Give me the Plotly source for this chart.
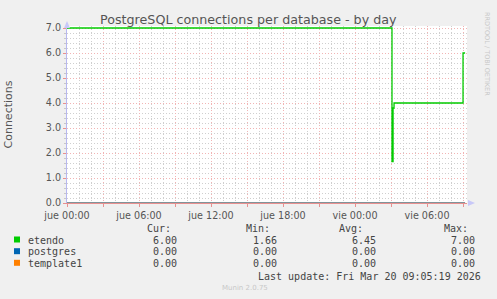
import plotly.graph_objects as go

# ---- data ----
hours_etendo = [0, 27.08, 27.17, 27.25, 33.0, 33.17]
values_etendo = [7.0, 1.66, 3.8, 4.0, 6.0, 6.0]
hours_zero = [0, 33.17]
values_postgres = [0.0, 0.0]
values_template1 = [0.0, 0.0]

series_names = ["etendo", "postgres", "template1"]
series_colors = ["#00CC00", "#0066B3", "#FF8000"]
cur_vals = ["6.00", "0.00", "0.00"]
min_vals = ["1.66", "0.00", "0.00"]
avg_vals = ["6.45", "0.00", "0.00"]
max_vals = ["7.00", "0.00", "0.00"]

tick_hours = [0, 3, 6, 9, 12, 15, 18, 21, 24, 27, 30, 33]
tick_labels = ["jue 00:00", "", "jue 06:00", "", "jue 12:00", "", "jue 18:00", "",
               "vie 00:00", "", "vie 06:00", ""]
y_ticks = [0, 1, 2, 3, 4, 5, 6, 7]

title = "PostgreSQL connections per database - by day"
last_update = "Last update: Fri Mar 20 09:05:19 2026"

# ---- layout geometry ----
W, H = 497, 299
L, R, T, B = 67, 467, 28, 203
TOP_PAD = 2  # extra pixels above 7.0 so the top line is not clipped
UNIT_PX = (B - T) / 7.0


def px(x):
    return (x - L) / (R - L)


def py(y):
    return (B - y) / (B - (T - TOP_PAD))


fig = go.Figure()
fig.add_trace(go.Scatter(x=hours_zero, y=values_template1, mode="lines", line=dict(color=series_colors[2], width=1, shape="hv"), showlegend=False, hoverinfo="skip"))
fig.add_trace(go.Scatter(x=hours_zero, y=values_postgres, mode="lines", line=dict(color=series_colors[1], width=1, shape="hv"), showlegend=False, hoverinfo="skip"))
fig.add_trace(go.Scatter(x=hours_etendo, y=values_etendo, mode="lines", line=dict(color=series_colors[0], width=1.3, shape="hv"), showlegend=False, hoverinfo="skip"))

tickfont = dict(family="DejaVu Sans", size=9.6, color="#555555")

fig.update_layout(
    width=W, height=H,
    margin=dict(l=L, r=W - R, t=T - TOP_PAD, b=H - B, autoexpand=False),
    paper_bgcolor="#F0F0F0",
    plot_bgcolor="#FFFFFF",
    showlegend=False,
    xaxis=dict(
        range=[0, 33.33], tickmode="array", tickvals=tick_hours, ticktext=tick_labels,
        showgrid=True, gridcolor="#F2B4B4", griddash="1px,2px", gridwidth=1,
        ticks="outside", ticklen=3, tickcolor="#E89090",
        minor=dict(tickmode="linear", tick0=0, dtick=1, showgrid=True, gridcolor="#CFCFCF", griddash="1px,2px", gridwidth=1, ticks=""),
        showline=True, linecolor="#E89090", linewidth=1,
        zeroline=False, tickfont=tickfont, fixedrange=True, automargin=False,
    ),
    yaxis=dict(
        range=[0, 7 + TOP_PAD / UNIT_PX], tickmode="array", tickvals=y_ticks, tickformat=".1f",
        showgrid=True, gridcolor="#F2B4B4", griddash="1px,2px", gridwidth=1,
        ticks="outside", ticklen=3, tickcolor="#E89090",
        minor=dict(tickmode="linear", tick0=0, dtick=0.2, showgrid=True, gridcolor="#CFCFCF", griddash="1px,2px", gridwidth=1, ticks="outside", ticklen=2, tickcolor="#C8C8C8"),
        showline=True, linecolor="#B8B8F0", linewidth=1,
        zeroline=False, tickfont=tickfont, fixedrange=True, automargin=False,
        title=dict(text="Connections", font=dict(family="DejaVu Sans", size=11, color="#555555"), standoff=30),
    ),
)

# arrows on axes
fig.add_shape(type="path", xref="paper", yref="paper",
              path=f"M {px(64)} {py(28)} L {px(70)} {py(28)} L {px(67)} {py(21)} Z",
              fillcolor="#C8C8F8", line=dict(width=0), layer="above")
fig.add_shape(type="path", xref="paper", yref="paper",
              path=f"M {px(468)} {py(200)} L {px(468)} {py(206)} L {px(475)} {py(203)} Z",
              fillcolor="#C8C8F8", line=dict(width=0), layer="above")

ann = []
ann.append(dict(text=title, x=px(248), y=py(19), xref="paper", yref="paper", showarrow=False,
                xanchor="center", yanchor="middle", font=dict(family="DejaVu Sans", size=12.7, color="#555555")))
ann.append(dict(text="RRDTOOL / TOBI OETIKER", x=px(487), y=py(54), xref="paper", yref="paper", showarrow=False,
                textangle=90, xanchor="center", yanchor="middle", font=dict(family="DejaVu Sans", size=6.5, color="#C8C8C8")))
ann.append(dict(text="Munin 2.0.75", x=px(245), y=py(288), xref="paper", yref="paper", showarrow=False,
                xanchor="center", yanchor="middle", font=dict(family="DejaVu Sans", size=7, color="#C8C8C8")))

mono = dict(family="DejaVu Sans Mono", size=10, color="#444444")
headers = ["Cur:", "Min:", "Avg:", "Max:"]
header_right = [173, 272, 365, 470]
col_right = [179, 279, 378, 477]
cols = [cur_vals, min_vals, avg_vals, max_vals]
for h, xr in zip(headers, header_right):
    ann.append(dict(text=h, x=px(xr), y=py(228), xref="paper", yref="paper", showarrow=False,
                    xanchor="right", yanchor="middle", font=mono))
row_y = [240, 251.7, 263.3]
for i, name in enumerate(series_names):
    ann.append(dict(text=name, x=px(26), y=py(row_y[i]), xref="paper", yref="paper", showarrow=False,
                    xanchor="left", yanchor="middle", font=mono))
    fig.add_shape(type="rect", xref="paper", yref="paper",
                  x0=px(14), x1=px(20), y0=py(row_y[i] - 3.5), y1=py(row_y[i] + 2.5),
                  fillcolor=series_colors[i], line=dict(width=0))
    for c, xr in zip(cols, col_right):
        ann.append(dict(text=c[i], x=px(xr), y=py(row_y[i]), xref="paper", yref="paper", showarrow=False,
                        xanchor="right", yanchor="middle", font=mono))
ann.append(dict(text=last_update, x=px(483), y=py(276), xref="paper", yref="paper", showarrow=False,
                xanchor="right", yanchor="middle", font=mono))

fig.update_layout(annotations=ann)
fig.write_html("out.html", config={"displayModeBar": False})
